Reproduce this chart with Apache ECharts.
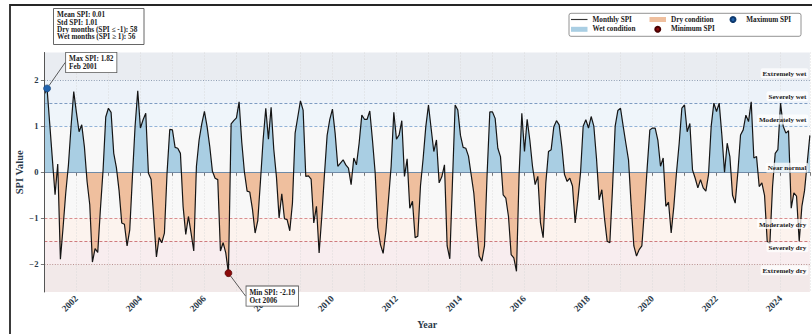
<!DOCTYPE html>
<html>
<head>
<meta charset="utf-8">
<script src="https://cdn.jsdelivr.net/npm/echarts@6/dist/echarts.min.js"></script>
<style>
  html, body { margin: 0; padding: 0; background: #ffffff; }
  #chart { width: 812px; height: 334px; }
</style>
</head>
<body>
<div id="chart"></div>
<script>
// Monthly Standardized Precipitation Index, Jan 2001 onwards (one array per year)
const START_YEAR = 2001;
const spi2001 = [1.70, 1.82, 1.05, 0.28, -0.49, 0.18, -1.89, -1.20, -0.45, 0.15, 1.00, 1.75];
const spi2002 = [1.30, 0.88, 1.03, 0.55, -0.20, -0.70, -1.95, -1.66, -1.74, -0.80, 0.05, 1.20];
const spi2003 = [1.39, 1.30, 0.41, 0.10, -0.40, -1.10, -1.13, -1.60, -1.25, -0.10, 1.00, 1.77];
const spi2004 = [0.96, 1.14, 1.28, -0.02, -0.15, -1.00, -1.84, -1.42, -1.53, -1.32, 0.00, 0.93];
const spi2005 = [0.92, 0.54, 0.52, 0.41, -0.74, -1.35, -0.96, -1.32, -1.71, 0.13, 0.70, 1.05];
const spi2006 = [1.32, 0.99, 0.56, 0.02, -0.13, -0.16, -1.71, -1.53, -1.75, -2.19, 1.05, 1.12];
const spi2007 = [1.18, 1.53, 0.65, 0.00, -0.41, -0.43, -0.80, -1.32, -1.05, -0.20, 0.70, 1.39];
const spi2008 = [0.72, 1.41, 0.50, -0.10, -0.99, -0.47, -1.01, -1.03, -1.27, -0.67, 0.85, 1.20];
const spi2009 = [1.55, 1.35, -0.09, -0.08, -0.15, -1.10, -0.74, -1.75, -0.96, -0.05, 0.80, 1.15];
const spi2010 = [1.37, 0.85, 0.13, 0.20, 0.27, 0.16, 0.09, -0.27, 0.31, 0.16, 0.63, 1.24];
const spi2011 = [1.15, 1.15, 1.33, 0.70, 0.00, -1.20, -1.57, -1.76, -1.30, -0.60, 0.13, 1.30];
const spi2012 = [0.72, 0.81, 1.12, -0.09, 0.29, -0.78, -0.63, -1.42, -1.39, -0.30, 0.30, 0.99];
const spi2013 = [1.46, 0.95, 0.45, 0.70, -0.23, -0.10, 0.16, -1.60, -1.88, -0.20, 1.46, 1.35];
const spi2014 = [0.80, 0.54, 0.52, 0.35, -0.05, -0.45, -1.17, -1.82, -1.93, -1.60, -0.02, 1.31];
const spi2015 = [1.31, 1.17, 0.52, 0.34, -0.49, -0.56, -0.96, -1.79, -1.86, -2.15, -0.02, 1.28];
const spi2016 = [0.45, 1.15, 0.70, 0.13, -0.27, -0.09, -1.10, -1.42, -0.23, 0.45, 0.49, 0.99];
const spi2017 = [1.12, 1.03, 0.56, -0.05, -0.20, -0.13, -0.30, -1.10, -0.60, -0.02, 1.00, 1.14];
const spi2018 = [0.96, 1.21, 1.00, 0.30, -0.60, -0.38, -1.00, -1.50, -1.53, -0.35, 1.00, 1.34];
const spi2019 = [1.39, 1.00, 0.63, 0.27, -0.72, -1.60, -1.82, -1.68, -1.60, -0.81, 0.10, 0.92];
const spi2020 = [0.96, 0.96, 0.70, 0.13, 0.31, -0.74, -0.65, -1.32, -0.74, 0.00, 0.63, 1.39];
const spi2021 = [1.46, 0.88, 1.06, 0.05, -0.13, -0.34, -0.16, -0.34, -0.41, -0.05, 1.00, 1.50];
const spi2022 = [1.32, 1.50, 0.81, 0.00, 0.63, 0.34, -0.50, -0.67, 0.00, 0.81, 0.92, 1.24];
const spi2023 = [1.10, 1.53, 0.31, 0.34, -0.31, -0.23, -0.50, -1.50, -1.55, -0.31, 0.41, 0.49];
const spi2024 = [1.50, 1.00, 0.85, 0.90, -0.78, -0.45, -0.52, -1.50, -0.74, -0.40, 0.20, 0.80];

const spiYears = [spi2001, spi2002, spi2003, spi2004, spi2005, spi2006, spi2007, spi2008,
                  spi2009, spi2010, spi2011, spi2012, spi2013, spi2014, spi2015, spi2016,
                  spi2017, spi2018, spi2019, spi2020, spi2021, spi2022, spi2023, spi2024];

const monthNames = ['Jan', 'Feb', 'Mar', 'Apr', 'May', 'Jun', 'Jul', 'Aug', 'Sep', 'Oct', 'Nov', 'Dec'];

// Drought / wetness class thresholds and their names
const thresholdValues = [2, 1.5, 1, 0, -1, -1.5, -2];
const thresholdNames = ['Extremely wet', 'Severely wet', 'Moderately wet', 'Near normal',
                        'Moderately dry', 'Severely dry', 'Extremely dry'];
const bandEdges = [2.6, 2, 1.5, 1, -1, -1.5, -2, -2.6];
const yTickValues = [-2, -1, 0, 1, 2];

const statsLines = ['Mean SPI: 0.01', 'Std SPI: 1.01', 'Dry months (SPI \u2264 -1): 58', 'Wet months (SPI \u2265 1): 56'];

// ---- styling ----
const SERIF = "'Liberation Serif', 'Times New Roman', 'DejaVu Serif', serif";
const WET_FILL = '#a9cee3';
const DRY_FILL = '#efbf9e';
const CLEAR = 'rgba(255,255,255,0)';
const bandColors = ['#e9ecf1', '#ecf2f9', '#eff5fa', '#f8f8f8', '#fcf3ee', '#f8edef', '#f2e9e9'];
const thresholdStyles = [
  { color: '#8d9db3', type: [1, 1.6], width: 1 },
  { color: '#7e9cc2', type: [3, 2], width: 1.1 },
  { color: '#92b3d8', type: [3, 2], width: 1.1 },
  { color: '#6f8aa6', type: 'solid', width: 1 },
  { color: '#d88d8f', type: [3, 2], width: 1.1 },
  { color: '#cf7a7d', type: [3, 2], width: 1.1 },
  { color: '#b99090', type: [1, 1.6], width: 1 }
];

// ---- data assembly ----
const spiSeries = [].concat(...spiYears);
const points = spiSeries.map((v, i) => [i, v]);
const lastIndex = spiSeries.length - 1;

let maxIdx = 0, minIdx = 0;
spiSeries.forEach((v, i) => {
  if (v > spiSeries[maxIdx]) maxIdx = i;
  if (v < spiSeries[minIdx]) minIdx = i;
});
const monthLabel = (i) => monthNames[i % 12] + ' ' + (START_YEAR + Math.floor(i / 12));
const fmtSigned = (v) => v.toFixed(2);

const bandData = bandColors.map((c, k) => [
  { yAxis: bandEdges[k + 1], itemStyle: { color: c } },
  { yAxis: bandEdges[k] }
]);

// threshold lines (drawn under the SPI curve)
const thresholdLines = thresholdValues.map((t, k) => ({
  yAxis: t,
  lineStyle: thresholdStyles[k],
  label: { show: false }
}));

// class names at the right end of each threshold (drawn above the SPI curve)
const thresholdLabels = thresholdValues.map((t, k) => {
  const above = t >= 0;
  return {
    yAxis: t,
    lineStyle: { color: 'rgba(0,0,0,0)', width: 0 },
    label: {
      show: true,
      formatter: thresholdNames[k],
      position: above ? 'insideEndTop' : 'insideEndBottom',
      distance: [1.5, t === 0 ? -0.5 : (above ? 1.8 : 0.8)],
      color: '#222222',
      opacity: 1,
      fontFamily: SERIF,
      fontWeight: 'bold',
      fontSize: 7.1,
      lineHeight: 9,
      backgroundColor: 'rgba(255,255,255,0.75)',
      padding: [1, 2, 0, 2],
      borderRadius: 2
    }
  };
});

const annoLabel = {
  show: true,
  position: 'inside',
  align: 'left',
  color: '#1a1a1a',
  fontFamily: SERIF,
  fontWeight: 'bold',
  fontSize: 7.3,
  lineHeight: 8.2,
  backgroundColor: '#ffffff',
  borderColor: '#555555',
  borderWidth: 0.8,
  padding: [2, 3, 1, 3]
};

const chart = echarts.init(document.getElementById('chart'), null, { renderer: 'svg', width: 812, height: 334 });

const legendText = { fontFamily: SERIF, fontWeight: 'bold', fontSize: 7.2, color: '#1a1a1a', lineHeight: 9 };
const legendBase = { orient: 'vertical', top: 15, itemWidth: 16.5, itemHeight: 5, itemGap: 0.8, padding: 0, textStyle: legendText, selectedMode: false };

const option = {
  animation: false,
  backgroundColor: '#ffffff',
  textStyle: { fontFamily: SERIF },
  grid: { left: 44.4, right: -5, top: 52.5, bottom: 41 },
  xAxis: {
    type: 'value',
    min: 0,
    max: lastIndex,
    interval: 12,
    z: 1.5,
    name: 'Year',
    nameLocation: 'middle',
    nameGap: 27,
    nameMoveOverlap: false,
    nameTextStyle: { fontFamily: SERIF, fontWeight: 'bold', fontSize: 10, color: '#2b3a4a' },
    axisLine: { lineStyle: { color: '#555555', width: 1 } },
    axisTick: { length: 3.5, lineStyle: { color: '#555555', width: 0.8 } },
    axisLabel: {
      rotate: 45,
      margin: 5,
      fontFamily: SERIF,
      fontWeight: 'bold',
      fontSize: 9.3,
      color: '#2b3a4a',
      formatter: (v) => {
        if (v % 12 !== 0) return '';
        const yr = START_YEAR + v / 12;
        return yr % 2 === 0 ? String(yr) : '';
      }
    },
    splitLine: { show: true, lineStyle: { color: '#d6d6d6', type: [1, 2], width: 0.8 } }
  },
  yAxis: {
    type: 'value',
    min: -2.6,
    max: 2.6,
    z: 7,
    name: 'SPI Value',
    nameLocation: 'middle',
    nameGap: 19,
    nameMoveOverlap: false,
    nameTextStyle: { fontFamily: SERIF, fontWeight: 'bold', fontSize: 10.5, color: '#2b3a4a' },
    axisLine: { show: true, lineStyle: { color: '#555555', width: 1 } },
    axisTick: { show: true, length: 3.5, customValues: yTickValues, lineStyle: { color: '#555555', width: 0.8 } },
    axisLabel: {
      customValues: yTickValues,
      margin: 6,
      fontFamily: SERIF,
      fontWeight: 'bold',
      fontSize: 8.5,
      color: '#2b3a4a',
      formatter: (v) => (v < 0 ? '\u2212' + Math.abs(v) : String(v))
    },
    splitLine: { show: false }
  },
  // Fill colour by sign of SPI: blue above zero, orange below (bounded pieces give finite colour stops)
  visualMap: [
    { type: 'piecewise', show: false, seriesIndex: 0, dimension: 1,
      pieces: [{ gt: 0, lte: 10, color: WET_FILL }, { gte: -10, lte: 0, color: CLEAR }],
      outOfRange: { color: CLEAR } },
    { type: 'piecewise', show: false, seriesIndex: 1, dimension: 1,
      pieces: [{ gte: 0, lte: 10, color: CLEAR }, { gte: -10, lt: 0, color: DRY_FILL }],
      outOfRange: { color: CLEAR } }
  ],
  legend: [
    Object.assign({}, legendBase, { left: 571, data: [
      { name: 'Monthly SPI', icon: 'path://M0,0L16,0L16,1.1L0,1.1Z', itemStyle: { color: '#333333' } },
      { name: 'Wet condition', icon: 'rect', itemStyle: { color: WET_FILL } }
    ] }),
    Object.assign({}, legendBase, { left: 649.5, data: [
      { name: 'Dry condition', icon: 'rect', itemStyle: { color: DRY_FILL } },
      { name: 'Minimum SPI', icon: 'circle' }
    ] }),
    Object.assign({}, legendBase, { left: 729.5, data: [
      { name: 'Maximum SPI', icon: 'circle' }
    ] })
  ],
  graphic: [
    { type: 'rect', silent: true, z: 0, shape: { x: 10, y: 5, width: 900, height: 400 },
      style: { fill: 'none', stroke: '#262626', lineWidth: 1.8 } },
    { type: 'rect', silent: true, z: 10, shape: { x: 53.5, y: 8.5, width: 90.5, height: 36 },
      style: { fill: '#ffffff', stroke: '#555555', lineWidth: 0.9 } },
    { type: 'text', silent: true, z: 11, x: 57, y: 11,
      style: { text: statsLines.join('\n'), font: 'bold 7.3px ' + SERIF, lineHeight: 7.4, fill: '#1a1a1a' } },
    { type: 'rect', silent: true, z: 1, shape: { x: 569, y: 13.3, width: 232, height: 23, r: 2 },
      style: { fill: '#ffffff', stroke: '#777777', lineWidth: 0.8 } }
  ],
  series: [
    {
      name: 'Wet condition',
      type: 'line',
      data: points,
      symbol: 'none',
      silent: true,
      z: 3,
      lineStyle: { width: 0, opacity: 0 },
      areaStyle: { opacity: 1 },
      markArea: { silent: true, z: 1, data: bandData }
    },
    {
      name: 'Dry condition',
      type: 'line',
      data: points,
      symbol: 'none',
      silent: true,
      z: 3,
      lineStyle: { width: 0, opacity: 0 },
      areaStyle: { opacity: 1 },
      markLine: { silent: true, symbol: ['none', 'none'], z: 5, data: thresholdLines }
    },
    {
      name: 'Monthly SPI',
      type: 'line',
      data: points,
      symbol: 'none',
      z: 6,
      lineStyle: { color: '#151515', width: 1.2 },
      itemStyle: { color: '#333333' },
      markLine: { silent: true, symbol: ['none', 'none'], z: 9, data: thresholdLabels }
    },
    {
      name: 'Minimum SPI',
      type: 'scatter',
      data: [[minIdx, spiSeries[minIdx]]],
      symbolSize: 7,
      z: 8,
      itemStyle: { color: '#8b0a0a', borderColor: '#4a0000', borderWidth: 0.6, opacity: 1 },
      label: Object.assign({}, annoLabel, {
        formatter: 'Min SPI: ' + fmtSigned(spiSeries[minIdx]) + '\n' + monthLabel(minIdx)
      }),
      labelLayout: { dx: 18, dy: 23 },
      labelLine: { show: true, lineStyle: { color: '#333333', width: 0.8 } }
    },
    {
      name: 'Maximum SPI',
      type: 'scatter',
      data: [[maxIdx, spiSeries[maxIdx]]],
      symbolSize: 7,
      z: 8,
      itemStyle: { color: '#2263ad', borderColor: '#0e3a6e', borderWidth: 0.6, opacity: 1 },
      label: Object.assign({}, annoLabel, {
        formatter: 'Max SPI: ' + fmtSigned(spiSeries[maxIdx]) + '\n' + monthLabel(maxIdx)
      }),
      labelLayout: { dx: 19, dy: -26 },
      labelLine: { show: true, lineStyle: { color: '#333333', width: 0.8 } }
    }
  ]
};

chart.setOption(option);
</script>
</body>
</html>
